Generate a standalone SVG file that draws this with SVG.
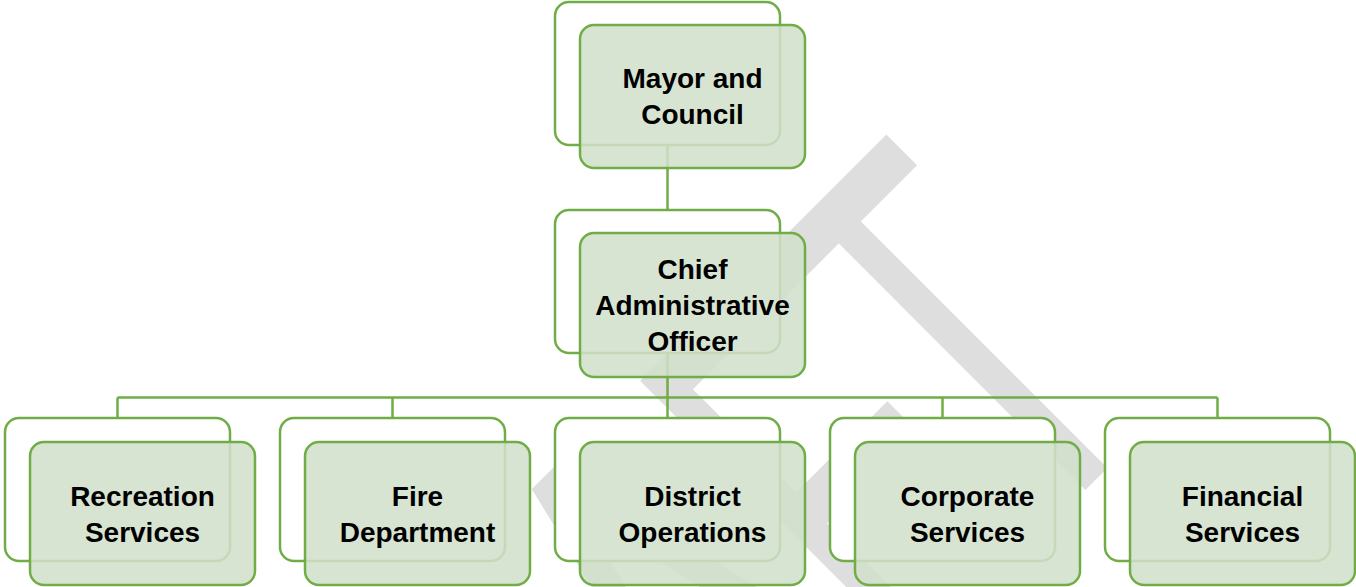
<svg xmlns="http://www.w3.org/2000/svg" width="1356" height="587" viewBox="0 0 1356 587">
  <style>
    .back { fill: #ffffff; stroke: #70ad47; stroke-width: 2.5; }
    .front { fill: #d2e0cb; fill-opacity: 0.86; stroke: #70ad47; stroke-width: 2.5; }
    .label { font-family: "Liberation Sans", Arial, sans-serif; font-weight: bold; font-size: 28px; fill: #000000; text-anchor: middle; }
    .conn { fill: none; stroke: #70ad47; stroke-width: 2.5; }
    .wm { font-family: "Liberation Sans", Arial, sans-serif; font-size: 570px; fill: #dedede; }
  </style>
  <rect width="1356" height="587" fill="#ffffff"/>
  <g id="watermark">
    <text class="wm" transform="rotate(-45) scale(0.59,1)" x="-930 -520 -110 264 566" y="1114">DRAFT</text>
  </g>
  <g id="connectors">
    <path class="conn" d="M667.5,145 V210"/>
    <path class="conn" d="M667.5,353 V397.5 M117.5,397.5 H1217.5 M117.5,397.5 V418 M392.5,397.5 V418 M667.5,397.5 V418 M942.5,397.5 V418 M1217.5,397.5 V418"/>
  </g>
  <g id="mayor">
    <rect class="back" x="555" y="2" width="225" height="143" rx="14"/>
    <rect class="front" x="580" y="25" width="225" height="143" rx="14"/>
    <text class="label" x="692.5" y="88">Mayor and</text>
    <text class="label" x="692.5" y="124">Council</text>
  </g>
  <g id="cao">
    <rect class="back" x="555" y="210" width="225" height="143" rx="14"/>
    <rect class="front" x="580" y="233" width="225" height="144" rx="14"/>
    <text class="label" x="692.5" y="279">Chief</text>
    <text class="label" x="692.5" y="315">Administrative</text>
    <text class="label" x="692.5" y="351">Officer</text>
  </g>
  <g id="recreation">
    <rect class="back" x="5" y="418" width="225" height="143" rx="14"/>
    <rect class="front" x="30" y="442" width="225" height="143" rx="14"/>
    <text class="label" x="142.5" y="505.5">Recreation</text>
    <text class="label" x="142.5" y="541.5">Services</text>
  </g>
  <g id="fire">
    <rect class="back" x="280" y="418" width="225" height="143" rx="14"/>
    <rect class="front" x="305" y="442" width="225" height="143" rx="14"/>
    <text class="label" x="417.5" y="505.5">Fire</text>
    <text class="label" x="417.5" y="541.5">Department</text>
  </g>
  <g id="district">
    <rect class="back" x="555" y="418" width="225" height="143" rx="14"/>
    <rect class="front" x="580" y="442" width="225" height="143" rx="14"/>
    <text class="label" x="692.5" y="505.5">District</text>
    <text class="label" x="692.5" y="541.5">Operations</text>
  </g>
  <g id="corporate">
    <rect class="back" x="830" y="418" width="225" height="143" rx="14"/>
    <rect class="front" x="855" y="442" width="225" height="143" rx="14"/>
    <text class="label" x="967.5" y="505.5">Corporate</text>
    <text class="label" x="967.5" y="541.5">Services</text>
  </g>
  <g id="financial">
    <rect class="back" x="1105" y="418" width="225" height="143" rx="14"/>
    <rect class="front" x="1130" y="442" width="225" height="143" rx="14"/>
    <text class="label" x="1242.5" y="505.5">Financial</text>
    <text class="label" x="1242.5" y="541.5">Services</text>
  </g>
</svg>
